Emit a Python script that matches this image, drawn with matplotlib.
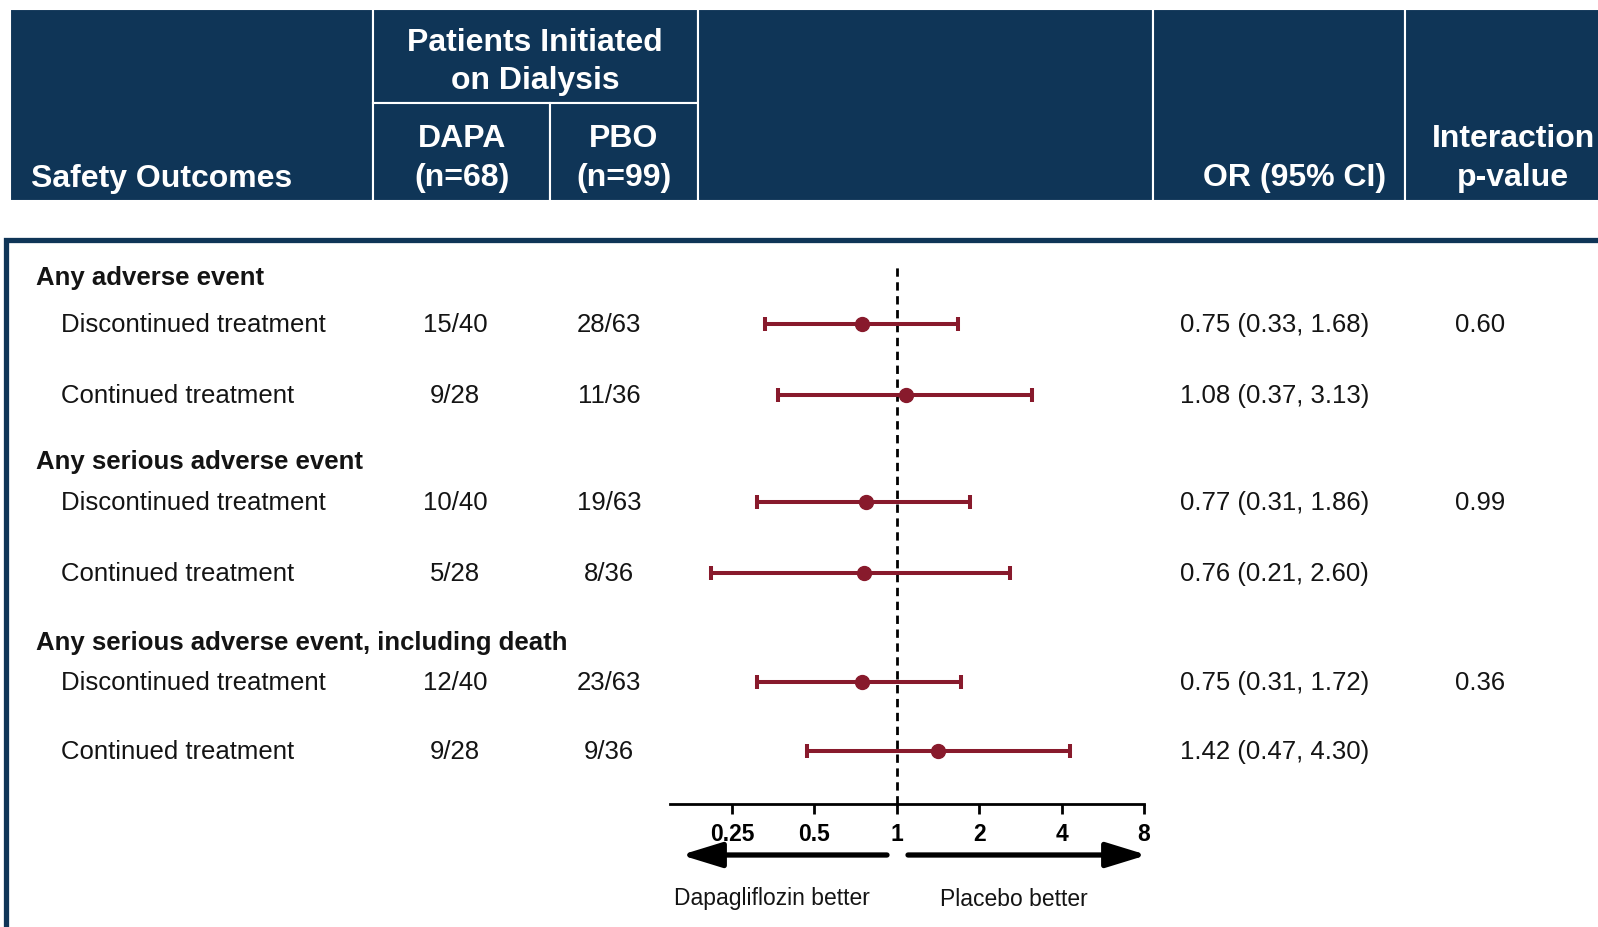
import matplotlib
matplotlib.use('Agg')
import matplotlib.pyplot as plt
from matplotlib.patches import Rectangle
from matplotlib import font_manager

# ---------------- data ----------------
groups = ['Any adverse event', 'Any serious adverse event',
          'Any serious adverse event, including death']
subgroups = ['Discontinued treatment', 'Continued treatment']
dapa_counts = ['15/40', '9/28', '10/40', '5/28', '12/40', '9/28']
pbo_counts = ['28/63', '11/36', '19/63', '8/36', '23/63', '9/36']
or_est = [0.75, 1.08, 0.77, 0.76, 0.75, 1.42]
ci_low = [0.33, 0.37, 0.31, 0.21, 0.31, 0.47]
ci_high = [1.68, 3.13, 1.86, 2.60, 1.72, 4.30]
p_values = ['0.60', '0.99', '0.36']
xticks = [0.25, 0.5, 1, 2, 4, 8]
xtick_labels = ['0.25', '0.5', '1', '2', '4', '8']

# ---------------- style ----------------
W, H, DPI = 1598, 927, 100
navy = '#0f3557'
red = '#881a2c'
names = {f.name for f in font_manager.fontManager.ttflist}
if 'Liberation Sans Narrow' in names:
    hfam, hsize = ['Liberation Sans Narrow', 'Liberation Sans', 'DejaVu Sans'], 27.5
else:
    hfam, hsize = ['Liberation Sans', 'DejaVu Sans'], 23
bfam = ['Liberation Sans', 'Arial', 'DejaVu Sans']
plt.rcParams['font.family'] = bfam

fig = plt.figure(figsize=(W / DPI, H / DPI), dpi=DPI)
bg = fig.add_axes([0, 0, 1, 1])
bg.set_xlim(0, W)
bg.set_ylim(H, 0)
bg.axis('off')

# ---------------- header ----------------
cells = [(10, 9, 373, 201), (373, 9, 698, 103), (373, 103, 550, 201),
         (550, 103, 698, 201), (698, 9, 1153, 201), (1153, 9, 1405, 201),
         (1405, 9, 1610, 201)]
for x0, y0, x1, y1 in cells:
    bg.add_patch(Rectangle((x0, y0), x1 - x0, y1 - y0, facecolor=navy,
                           edgecolor='white', lw=1.5))

def htext(x, y, s, ha='center'):
    bg.text(x, y, s, color='white', fontsize=hsize, fontweight='bold',
            family=hfam, ha=ha, va='center')

htext(31, 179, 'Safety Outcomes', ha='left')
htext(535, 43, 'Patients Initiated')
htext(535, 81, 'on Dialysis')
htext(462, 139, 'DAPA')
htext(462, 178, '(n=68)')
htext(624, 139, 'PBO')
htext(624, 178, '(n=99)')
htext(1295, 178, 'OR (95% CI)')
htext(1513, 139, 'Interaction')
htext(1513, 178, 'p-value')

# ---------------- body box ----------------
bg.add_patch(Rectangle((5.5, 240), W + 60, H, facecolor='white',
                       edgecolor=navy, lw=3.8))

# row layout (pixels)
group_y = [278, 462, 643]
row_y = [325, 396, 503, 574, 683, 752]
fs = 18.5
tc = '#141414'

for g, gy in zip(groups, group_y):
    bg.text(36, gy, g, fontsize=fs, fontweight='bold', ha='left',
            va='center', color=tc)
for i, ry in enumerate(row_y):
    bg.text(61, ry, subgroups[i % 2], fontsize=fs, ha='left', va='center',
            color=tc)
    bg.text(455, ry, dapa_counts[i], fontsize=fs, ha='center', va='center',
            color=tc)
    bg.text(609, ry, pbo_counts[i], fontsize=fs, ha='center', va='center',
            color=tc)
    bg.text(1180, ry, f'{or_est[i]:.2f} ({ci_low[i]:.2f}, {ci_high[i]:.2f})',
            fontsize=fs, ha='left', va='center', color=tc)
for k, p in enumerate(p_values):
    bg.text(1480, row_y[2 * k], p, fontsize=fs, ha='center', va='center',
            color=tc)

# ---------------- forest plot ----------------
ax_l, ax_r, ax_t, ax_b = 670, 1144, 267, 804
ax = fig.add_axes([ax_l / W, (H - ax_b) / H, (ax_r - ax_l) / W,
                   (ax_b - ax_t) / H])
ax.patch.set_visible(False)
ax.set_xscale('log', base=2)
ax.set_xlim(2 ** -2.75, 8)
ax.set_ylim(ax_b, ax_t)
ax.axvline(1, color='black', ls=(0, (3, 2)), lw=2.0, zorder=1)
xerr = [[e - l for e, l in zip(or_est, ci_low)],
        [h - e for e, h in zip(or_est, ci_high)]]
ax.errorbar(or_est, [y - 1 for y in row_y], xerr=xerr, fmt='o', color=red,
            ms=10, elinewidth=2.9, capsize=5, capthick=2.9, zorder=3)
for s in ['top', 'left', 'right']:
    ax.spines[s].set_visible(False)
ax.spines['bottom'].set_linewidth(2.0)
ax.set_yticks([])
ax.set_xticks(xticks)
ax.set_xticklabels(xtick_labels, fontsize=16.5, fontweight='bold')
ax.xaxis.set_minor_locator(matplotlib.ticker.NullLocator())
ax.tick_params(axis='x', direction='out', length=7, width=2.0, pad=6.5)

# direction arrows and labels
for x0, x1 in [(887, 681), (908, 1147)]:
    bg.annotate('', xy=(x1, 855), xytext=(x0, 855),
                arrowprops=dict(arrowstyle='-|>,head_length=0.65,head_width=0.2',
                                lw=3.8, color='black', mutation_scale=38,
                                shrinkA=0, shrinkB=0))
bg.text(772, 899, 'Dapagliflozin better', fontsize=16.5, ha='center',
        va='center', color=tc)
bg.text(1014, 899, 'Placebo better', fontsize=16.5, ha='center',
        va='center', color=tc)

fig.savefig('out.png', dpi=DPI)
